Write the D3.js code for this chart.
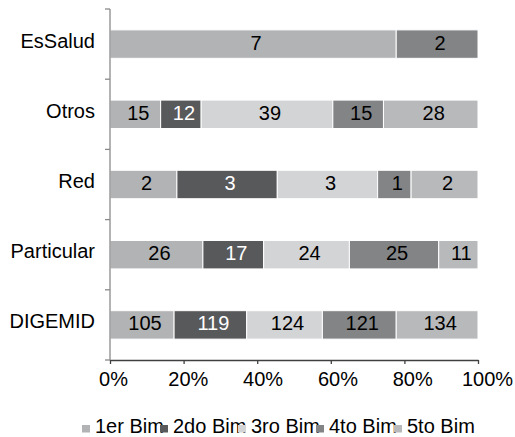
<!DOCTYPE html>
<html>
<head>
<meta charset="utf-8">
<script src="https://cdn.jsdelivr.net/npm/d3@7"></script>
<style>
  html, body { margin: 0; padding: 0; background: #fff; }
  svg { display: block; font-family: "Liberation Sans", Arial, sans-serif; }
</style>
</head>
<body>
<svg id="chart" width="515" height="437"></svg>
<script>
const categories = ["EsSalud", "Otros", "Red", "Particular", "DIGEMID"];
const seriesNames = ["1er Bim", "2do Bim", "3ro Bim", "4to Bim", "5to Bim"];
const bim1 = [7, 15, 2, 26, 105];
const bim2 = [0, 12, 3, 17, 119];
const bim3 = [0, 39, 3, 24, 124];
const bim4 = [2, 15, 1, 25, 121];
const bim5 = [0, 28, 2, 11, 134];
const seriesColors = ["#b2b3b5", "#58595b", "#d3d4d6", "#838486", "#b8b9bb"];
const labelColors = ["#000", "#fff", "#000", "#000", "#000"];
const xTicks = [0, 0.2, 0.4, 0.6, 0.8, 1];

const seriesValues = [bim1, bim2, bim3, bim4, bim5];
const rows = categories.map((c, i) => {
  const r = { cat: c };
  seriesNames.forEach((s, j) => r[s] = seriesValues[j][i]);
  return r;
});

const svg = d3.select("#chart");
const x = d3.scaleLinear().domain([0, 1]).range([110, 478]);
const y = d3.scaleBand().domain(categories).range([9, 360])
  .paddingInner(0.595).paddingOuter(0.2975);

const stack = d3.stack().keys(seriesNames).offset(d3.stackOffsetExpand);
const stacked = stack(rows);

const g = svg.append("g");
stacked.forEach((layer, j) => {
  const lg = g.append("g");
  layer.forEach((seg, i) => {
    const raw = seriesValues[j][i];
    if (!raw) return;
    const x0 = x(seg[0]), x1 = x(seg[1]);
    const yy = y(categories[i]);
    lg.append("rect")
      .attr("x", x0).attr("y", yy)
      .attr("width", x1 - x0).attr("height", y.bandwidth())
      .attr("fill", seriesColors[j])
      .attr("stroke", "#fff").attr("stroke-width", 1);
    lg.append("text")
      .attr("x", (x0 + x1) / 2 + 3)
      .attr("y", yy + y.bandwidth() / 2 + 5.5)
      .attr("text-anchor", "middle")
      .attr("font-size", 20)
      .attr("fill", labelColors[j])
      .text(raw);
  });
});

// y axis
const yAxis = svg.append("g");
yAxis.append("line")
  .attr("x1", x(0)).attr("x2", x(0)).attr("y1", 9).attr("y2", 360)
  .attr("stroke", "#8a8a8a").attr("stroke-width", 1.3);
const bounds = categories.map(c => y(c) - y.step() * y.paddingInner() / 2);
bounds.push(360);
bounds[0] = 9;
bounds.forEach(b => {
  yAxis.append("line")
    .attr("x1", x(0) - 5).attr("x2", x(0)).attr("y1", b).attr("y2", b)
    .attr("stroke", "#8a8a8a").attr("stroke-width", 1.3);
});
categories.forEach(c => {
  yAxis.append("text")
    .attr("x", 95)
    .attr("y", y(c) + y.bandwidth() / 2 + 3.5)
    .attr("text-anchor", "end")
    .attr("font-size", 20)
    .attr("fill", "#000")
    .text(c);
});

// x axis
const xAxis = svg.append("g").attr("transform", "translate(0,360)")
  .call(d3.axisBottom(x).tickValues(xTicks).tickFormat(d3.format(".0%")).tickSize(4).tickSizeOuter(0));
xAxis.select(".domain").attr("stroke", "#404040").attr("stroke-width", 1.3);
xAxis.selectAll(".tick line").attr("stroke", "#404040").attr("stroke-width", 1.3);
xAxis.selectAll(".tick text")
  .attr("font-size", 20)
  .attr("font-family", "'Liberation Sans', Arial, sans-serif")
  .attr("fill", "#000")
  .attr("y", 12)
  .attr("dx", (d, i) => 3 + i * 1.2);

// legend
const legend = svg.append("g");
seriesNames.forEach((s, j) => {
  const lx = 82 + j * 78;
  legend.append("rect")
    .attr("x", lx).attr("y", 425).attr("width", 8).attr("height", 7.5)
    .attr("fill", seriesColors[j]);
  legend.append("text")
    .attr("x", lx + 13).attr("y", 432.5)
    .attr("font-size", 20).attr("fill", "#000")
    .text(s);
});
</script>
</body>
</html>
